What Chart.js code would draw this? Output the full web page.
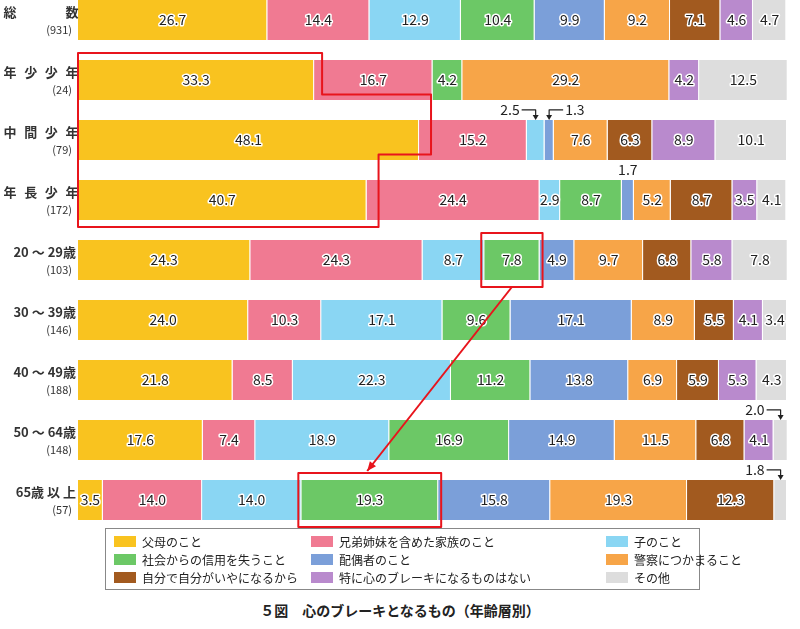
<!DOCTYPE html><html><head><meta charset="utf-8">
<script src="https://cdn.jsdelivr.net/npm/chart.js@4/dist/chart.umd.min.js"></script>
<style>
body{margin:0;width:800px;height:629px;position:relative;font-family:"Noto Sans CJK JP",sans-serif;background:#fff;overflow:hidden}
#wrap{position:absolute;left:0;top:-10px;width:800px;height:540px}
#legend{position:absolute;left:105px;top:528px;width:595px;height:62px;border:1px solid #888;box-sizing:border-box;font-size:12px;color:#222}
.li{position:absolute;display:flex;align-items:center;height:16px;white-space:nowrap}
.sw{width:22px;height:11px;margin-right:6px;flex-shrink:0}
#title{position:absolute;left:0;width:800px;top:600px;text-align:center;font-size:14px;font-weight:bold;color:#222}
</style></head><body>
<div id="wrap"><canvas id="c"></canvas></div>
<div id="legend"></div>
<div id="title">５図　心のブレーキとなるもの（年齢層別）</div>
<script>
const groupNames=["総　　数","年少少年","中間少年","年長少年","20 ～ 29歳","30 ～ 39歳","40 ～ 49歳","50 ～ 64歳","65歳 以 上"];
const groupCounts=["(931)","(24)","(79)","(172)","(103)","(146)","(188)","(148)","(57)"];
const seriesNames=["父母のこと","兄弟姉妹を含めた家族のこと","子のこと","社会からの信用を失うこと","配偶者のこと","警察につかまること","自分で自分がいやになるから","特に心のブレーキになるものはない","その他"];
const colors=["#f9c31f","#f07a92","#8ad6f3","#6cc866","#7b9fd9","#f7a548","#a25a1f","#b98acd","#dddddd"];
const parents=[26.7,33.3,48.1,40.7,24.3,24.0,21.8,17.6,3.5];
const family=[14.4,16.7,15.2,24.4,24.3,10.3,8.5,7.4,14.0];
const children=[12.9,0,2.5,2.9,8.7,17.1,22.3,18.9,14.0];
const trust=[10.4,4.2,0,8.7,7.8,9.6,11.2,16.9,19.3];
const spouse=[9.9,0,1.3,1.7,4.9,17.1,13.8,14.9,15.8];
const police=[9.2,29.2,7.6,5.2,9.7,8.9,6.9,11.5,19.3];
const selfHate=[7.1,0,6.3,8.7,6.8,5.5,5.9,6.8,12.3];
const nothing=[4.6,4.2,8.9,3.5,5.8,4.1,5.3,4.1,0];
const other=[4.7,12.5,10.1,4.1,7.8,3.4,4.3,2.0,1.8];
const seriesData=[parents,family,children,trust,spouse,police,selfHate,nothing,other];

const lg=document.getElementById('legend');
const colX=[8,205,500];
seriesNames.forEach((n,i)=>{const d=document.createElement('div');d.className='li';
d.style.left=colX[i%3]+'px';d.style.top=(4+Math.floor(i/3)*18)+'px';
d.innerHTML='<span class="sw" style="background:'+colors[i]+'"></span>'+n;lg.appendChild(d);});

const overlay={id:'ov',afterDatasetsDraw(ch){
 const c=ch.ctx,xs=ch.scales.x,ys=ch.scales.y;
 c.save();c.fillStyle='#333';
 groupNames.forEach((g,i)=>{const y=ys.getPixelForValue(i);
  c.font='bold 13px "Noto Sans CJK JP"';c.textBaseline='middle';
  const chars=[...g];
  if(i<4){chars.forEach((ch2,k)=>{if(ch2!=='　'){c.textAlign='center';c.fillText(ch2,10+k*((62)/(chars.length-1)),y-8);}});}
  else {c.textAlign='right';c.fillText(g,76,y-8);}
  c.font='11px "Noto Sans CJK JP"';c.textAlign='right';c.fillText(groupCounts[i],72,y+10);});
 c.font='14px "Noto Sans CJK JP"';c.textAlign='center';c.textBaseline='middle';c.lineJoin='round';
 ch.data.datasets.forEach((ds,di)=>{const m=ch.getDatasetMeta(di);
  m.data.forEach((b,i)=>{const v=ds.data[i];if(v<2.8)return;
   const t=v.toFixed(1);c.lineWidth=3;c.strokeStyle='#fff';c.strokeText(t,b.x-(b.width)/2,b.y);
   c.fillStyle='#222';c.fillText(t,b.x-b.width/2,b.y);});});
 const callout=(di,i,dir)=>{const b=ch.getDatasetMeta(di).data[i];const v=seriesData[di][i];
  const cx=b.x-b.width/2,top=b.y-b.height/2;c.strokeStyle='#222';c.fillStyle='#222';c.lineWidth=1.2;
  if(dir===0){c.fillText(v.toFixed(1),cx,top-10);return;}
  const ty=top-10;c.beginPath();c.moveTo(cx+dir*14,ty);c.lineTo(cx,ty);c.lineTo(cx,top-2);c.stroke();
  c.beginPath();c.moveTo(cx-3,top-5);c.lineTo(cx+3,top-5);c.lineTo(cx,top);c.fill();
  c.textAlign=dir<0?'right':'left';c.fillText(v.toFixed(1),cx+dir*16,ty);c.textAlign='center';};
 callout(2,2,-1);callout(4,2,1);callout(4,3,0);callout(8,7,-1);callout(8,8,-1);
 c.strokeStyle='#e8141c';c.lineWidth=2;
 const X=v=>xs.getPixelForValue(v),h=ys.getPixelForValue(1)-ys.getPixelForValue(0);
 const Y=(i,s)=>ys.getPixelForValue(i)+s*h*0.45;
 c.beginPath();c.moveTo(X(0),Y(1,-1));c.lineTo(X(33.3)+8,Y(1,-1));c.lineTo(X(33.3)+8,Y(1,0.5)+1);
 c.lineTo(X(48.1)+12,Y(1,0.5)+1);c.lineTo(X(48.1)+12,Y(2,0.5)+1);c.lineTo(X(40.7)+12,Y(2,0.5)+1);
 c.lineTo(X(40.7)+12,Y(3,1));c.lineTo(X(0),Y(3,1));c.closePath();c.stroke();
 const box=(i,a,b2)=>{c.strokeRect(X(a)-3,Y(i,-1),X(b2)-X(a)+6,Y(i,1)-Y(i,-1));};
 const s20=24.3+24.3+8.7,s65=3.5+14+14;
 box(4,s20,s20+7.8);box(8,s65,s65+19.3);
 const x1=X(s20+3.9),y1=Y(4,1),x2=X(s65+10)-5,y2=Y(8,-1)-2;
 c.beginPath();c.moveTo(x1,y1);c.lineTo(x2,y2);c.stroke();
 const ang=Math.atan2(y2-y1,x2-x1);c.fillStyle='#e8141c';c.beginPath();c.moveTo(x2,y2);
 c.lineTo(x2-10*Math.cos(ang-0.4),y2-10*Math.sin(ang-0.4));c.lineTo(x2-10*Math.cos(ang+0.4),y2-10*Math.sin(ang+0.4));c.fill();
 c.restore();}};

new Chart(document.getElementById('c'),{type:'bar',
 data:{labels:groupNames,datasets:seriesNames.map((n,i)=>({label:n,data:seriesData[i],backgroundColor:colors[i],
  borderColor:'rgba(255,255,255,0.6)',borderWidth:{right:1,left:0,top:0,bottom:0},barPercentage:1,categoryPercentage:0.67}))},
 options:{indexAxis:'y',responsive:true,maintainAspectRatio:false,animation:false,
  layout:{padding:{left:78,right:13,top:0,bottom:0}},
  plugins:{legend:{display:false},tooltip:{enabled:false}},
  scales:{x:{stacked:true,min:0,max:100,display:false},y:{stacked:true,display:false}}},
 plugins:[overlay]});
</script></body></html>
